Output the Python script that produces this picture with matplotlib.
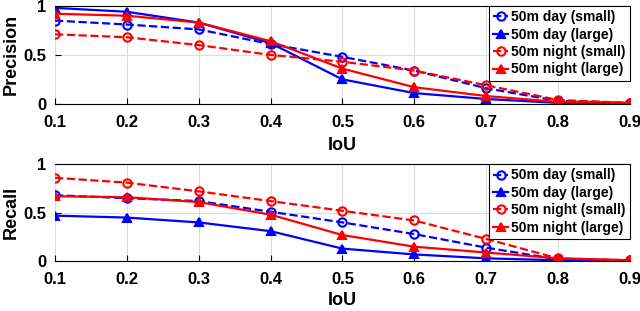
import numpy as np
from matplotlib import pyplot as plt

plt.rcParams['font.family'] = ['Liberation Sans', 'DejaVu Sans']
plt.rcParams['font.weight'] = 'bold'

iou = [0.1, 0.2, 0.3, 0.4, 0.5, 0.6, 0.7, 0.8, 0.9]

prec_day_small = [0.85, 0.81, 0.76, 0.61, 0.48, 0.34, 0.16, 0.03, 0.01]
prec_day_large = [0.98, 0.94, 0.83, 0.62, 0.25, 0.11, 0.05, 0.01, 0.0]
prec_night_small = [0.71, 0.68, 0.60, 0.50, 0.43, 0.34, 0.19, 0.04, 0.01]
prec_night_large = [0.92, 0.90, 0.83, 0.64, 0.36, 0.17, 0.08, 0.02, 0.01]

rec_day_small = [0.68, 0.65, 0.62, 0.51, 0.40, 0.28, 0.14, 0.02, 0.01]
rec_day_large = [0.47, 0.45, 0.40, 0.31, 0.13, 0.07, 0.03, 0.01, 0.0]
rec_night_small = [0.86, 0.81, 0.72, 0.62, 0.52, 0.42, 0.23, 0.03, 0.01]
rec_night_large = [0.67, 0.66, 0.61, 0.48, 0.27, 0.15, 0.09, 0.03, 0.01]

labels = ['50m day (small)', '50m day (large)', '50m night (small)', '50m night (large)']

fig = plt.figure(figsize=(6.4, 3.11), dpi=100)
ax1 = fig.add_axes([0.086, 0.666, 0.898, 0.315])
ax2 = fig.add_axes([0.086, 0.160, 0.898, 0.312])

def draw(ax, ds, dl, ns, nl, ylab, xpad):
    ax.plot(iou, ds, '--o', color='blue', lw=1.6, ms=6, mfc='none', mew=1.5, label=labels[0])
    ax.plot(iou, dl, '-^', color='blue', lw=1.6, ms=6, mew=1.5, label=labels[1])
    ax.plot(iou, ns, '--o', color='red', lw=1.6, ms=6, mfc='none', mew=1.5, label=labels[2])
    ax.plot(iou, nl, '-^', color='red', lw=1.6, ms=6, mew=1.5, label=labels[3])
    ax.set_xlim(0.1, 0.9)
    ax.set_ylim(0, 1)
    ax.set_xticks(iou)
    ax.set_yticks([0, 0.5, 1])
    ax.set_yticklabels(['0', '0.5', '1'])
    ax.grid(True, color='#dddddd', lw=0.8)
    ax.set_axisbelow(True)
    ax.tick_params(labelsize=12, direction='in', length=4)
    ax.tick_params(axis='x', pad=8)
    ax.tick_params(axis='y', pad=6)
    for s in ['left', 'right']:
        ax.spines[s].set_visible(False)
    ax.set_ylabel(ylab, fontsize=13, fontweight='bold', labelpad=3)
    ax.set_xlabel('IoU', fontsize=13, fontweight='bold', labelpad=xpad)
    leg = ax.legend(loc='upper right', fontsize=10, handlelength=1.1, handletextpad=0.2,
                    borderaxespad=0, labelspacing=0.25, borderpad=0.3, fancybox=False,
                    framealpha=1)
    leg.get_frame().set_edgecolor('black')
    leg.get_frame().set_linewidth(0.8)

draw(ax1, prec_day_small, prec_day_large, prec_night_small, prec_night_large, 'Precision', 5)
draw(ax2, rec_day_small, rec_day_large, rec_night_small, rec_night_large, 'Recall', 3)

fig.savefig('out.png', dpi=100)
